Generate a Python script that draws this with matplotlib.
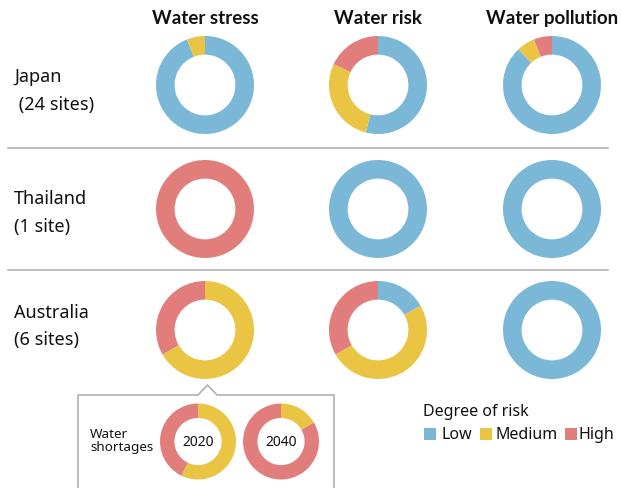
import matplotlib
matplotlib.use("Agg")
import matplotlib.pyplot as plt
from matplotlib.patches import Rectangle, Polygon
from matplotlib.lines import Line2D

plt.rcParams['font.family'] = ['Noto Sans', 'DejaVu Sans']

# ---------------- data ----------------
categories = ["Water stress", "Water risk", "Water pollution"]
regions = ["Japan", "Thailand", "Australia"]
site_labels = [" (24 sites)", "(1 site)", "(6 sites)"]
risk_levels = ["Low", "Medium", "High"]

# shares of sites per risk level: [Low, Medium, High]
japan_stress = [94, 6, 0]
japan_risk = [54, 28, 18]
japan_pollution = [88, 6, 6]
thailand_stress = [0, 0, 1]
thailand_risk = [1, 0, 0]
thailand_pollution = [1, 0, 0]
australia_stress = [0, 4, 2]
australia_risk = [1, 3, 2]
australia_pollution = [6, 0, 0]

shortage_label = "Water\nshortages"
shortage_years = ["2020", "2040"]
shortage_2020 = [0, 4, 3]
shortage_2040 = [0, 1, 5]

values = [
    [japan_stress, japan_risk, japan_pollution],
    [thailand_stress, thailand_risk, thailand_pollution],
    [australia_stress, australia_risk, australia_pollution],
]
shortages = [shortage_2020, shortage_2040]

# ---------------- style ----------------
colors = ["#7bb8d7", "#eac443", "#e17e7b"]
W, H = 621, 489
col_x = [205, 378, 552]
row_y = [86, 210, 331]
R = 49
ring = 0.38
grid_color = "#ababab"

fig = plt.figure(figsize=(W / 100, H / 100), dpi=100)
ax = fig.add_axes([0, 0, 1, 1])


def Y(y):
    return H - y


def donut(vals, cx, cy, r):
    v = [x for x in vals if x > 0]
    c = [colors[i] for i, x in enumerate(vals) if x > 0]
    ax.pie(v, colors=c, startangle=90, counterclock=False,
           center=(cx, Y(cy)), radius=r, frame=True,
           wedgeprops=dict(width=r * ring, linewidth=0.3, edgecolor="none",
                           antialiased=True))


# column titles
for cat, x in zip(categories, col_x):
    ax.text(x, Y(19), cat, ha="center", va="center", fontsize=13.5,
            fontweight="bold", family=["Lato", "DejaVu Sans"], color="#111111")

# row labels
label_offsets = [(77, 105), (199, 227), (313, 340)]
for reg, sl, (y1, y2) in zip(regions, site_labels, label_offsets):
    ax.text(14, Y(y1), reg, ha="left", va="center", fontsize=13, color="#111111")
    ax.text(14, Y(y2), sl, ha="left", va="center", fontsize=13, color="#111111")

# separators
for ys in [148.5, 270.5]:
    ax.add_line(Line2D([8, 608], [Y(ys), Y(ys)], color=grid_color, lw=1.1))

# donuts
for ri, row in enumerate(values):
    for ci, vals in enumerate(row):
        donut(vals, col_x[ci], row_y[ri], R)

# callout box
pts = [(78, 495), (78, 396), (198, 396), (207.5, 386), (217, 396),
       (334, 396), (334, 495)]
ax.add_patch(Polygon([(x, Y(y)) for x, y in pts], closed=False, fill=False,
                     edgecolor=grid_color, lw=1.1))

ax.text(90, Y(441), shortage_label, ha="left", va="center", fontsize=9.7,
        linespacing=1.05, color="#111111")
small_x = [198, 281]
for yr, vals, x in zip(shortage_years, shortages, small_x):
    donut(vals, x, 442.5, 38)
    ax.text(x, Y(443), yr, ha="center", va="center", fontsize=10, color="#111111")

# legend
ax.text(423, Y(412), "Degree of risk", ha="left", va="center", fontsize=11.5,
        color="#111111")
sq_x = [424, 480, 565]
txt_x = [441, 495, 579]
for lvl, c, sx, tx in zip(risk_levels, colors, sq_x, txt_x):
    ax.add_patch(Rectangle((sx, Y(441)), 12, 12, facecolor=c, edgecolor="none"))
    ax.text(tx, Y(435), lvl, ha="left", va="center", fontsize=11.5, color="#111111")

ax.set_xlim(0, W)
ax.set_ylim(0, H)
ax.set_aspect("equal")
ax.axis("off")

fig.savefig("out.png", dpi=100, facecolor="white")
